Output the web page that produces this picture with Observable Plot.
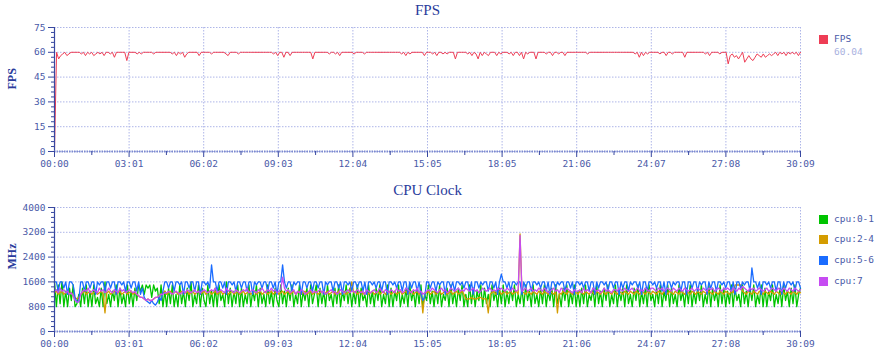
<!DOCTYPE html>
<html><head><meta charset="utf-8">
<script src="https://cdn.jsdelivr.net/npm/d3@7"></script>
<script src="https://cdn.jsdelivr.net/npm/@observablehq/plot@0.6"></script>
<style>
body{margin:0;background:#fff;}
#wrap{position:relative;width:890px;height:358px;overflow:hidden;background:#fff;}
.panel{position:absolute;left:0;}
.legtxt{position:absolute;left:834px;font-family:"DejaVu Sans Mono",monospace;font-size:9.5px;color:#4a5aa8;white-space:nowrap;line-height:12px;}
.sw{position:absolute;left:819px;width:9px;height:9px;}
</style></head><body><div id="wrap"></div>
<script>
// ---- data ----
const duration = 1809; // seconds (30:09)
const xTickLabels = ["00:00","03:01","06:02","09:03","12:04","15:05","18:05","21:06","24:07","27:08","30:09"];
const fpsTicks = [0,15,30,45,60,75];
const cpuTicks = [0,800,1600,2400,3200,4000];
const fpsLegend = ["FPS"];
const fpsAverage = "60.04";
const cpuSeries = ["cpu:0-1","cpu:2-4","cpu:5-6","cpu:7"];
const cpuColors = ["#00c400","#d49c00","#1a6cff","#c64cf2"];
const fpsColor = "#ee3d55";

const fpsValues = [
0,60,56,58,59,60,58,59,60,60,60,60,60,59,60,58,60,59,60,58,
59,60,59,60,58,60,60,59,60,57,60,60,60,60,60,55,60,60,60,60,
59,60,59,60,60,60,60,60,59,60,60,60,60,60,60,60,60,59,60,58,
60,59,60,57,59,60,60,60,60,60,58,60,60,60,60,60,59,60,60,60,
60,60,60,59,58,60,60,60,60,59,60,60,60,60,60,60,60,60,60,60,
60,60,60,60,60,60,59,60,58,60,60,57,60,60,58,60,60,60,60,60,
60,60,60,60,60,56,60,60,60,60,60,60,60,59,60,60,59,60,58,60,
60,60,60,60,60,59,60,60,60,60,59,60,60,60,60,60,60,60,60,60,
60,60,60,60,60,60,60,60,59,60,58,60,59,60,60,60,60,60,60,58,
60,60,60,59,60,58,60,60,59,60,59,60,60,60,56,60,60,60,60,60,
59,60,58,60,59,56,60,58,60,59,58,60,60,60,58,60,59,60,60,60,
59,60,58,60,60,58,60,56,60,59,60,60,60,56,60,60,60,60,59,60,
60,58,60,60,59,60,60,58,60,60,60,60,60,60,60,60,60,60,59,60,
60,60,60,60,60,60,60,60,60,60,60,60,60,60,60,60,60,60,60,60,
60,59,60,57,60,58,60,59,60,60,60,60,60,59,60,60,58,60,60,59,
60,60,60,60,60,57,60,60,60,60,60,60,60,60,60,59,60,58,60,60,
60,60,59,60,60,60,53,58,59,57,58,56,58,60,54,56,58,56,55,57,
59,58,57,59,57,58,59,58,59,60,58,60,59,60,58,60,59,60,59,60,
58,60];

const cpu01 = [
1600,800,1500,900,1600,800,1300,800,1400,1000,1500,800,900,1200,800,1400,900,1500,800,1300,
800,1500,900,1100,800,1400,800,1600,900,1200,800,1300,1000,1500,800,1400,900,1200,800,1500,
900,1300,800,1400,1000,1500,1300,1500,1200,1500,1400,1500,1100,1500,1300,1400,900,1500,800,1300,
800,1400,900,1500,800,1200,800,1500,900,1300,800,1400,1000,1600,800,1200,900,1500,800,1400,
1000,800,1500,900,1300,800,1400,800,1500,1000,1200,800,1600,900,1400,800,1300,900,1500,800,
1400,800,1200,900,1500,800,1300,1000,1500,800,1400,900,1200,800,1500,900,1300,800,1400,1000,
800,1500,900,1300,800,1400,1000,1500,800,1200,900,1500,800,1300,1000,1400,800,1500,900,1200,
1500,800,1400,900,1300,800,1500,1000,1200,800,1400,900,1500,800,1300,1000,1500,900,1400,800,
1300,900,1500,800,1400,1000,1200,800,1500,900,1300,800,1400,1000,1500,800,1200,900,1500,800,
1400,800,1300,1000,1500,800,1200,900,1400,800,1500,1000,1300,800,1400,900,1500,800,1200,1000,
1500,900,1300,800,1400,900,1500,800,1200,1000,1400,800,1500,900,1300,800,1400,1000,1500,800,
1200,800,1500,900,1400,800,1300,1000,1500,800,1400,900,1200,800,1500,1000,1300,800,1400,900,
1500,800,1300,900,1400,1000,1500,800,1200,900,1400,800,1500,1000,1300,800,1500,900,1200,800,
1400,900,1500,800,1300,1000,1400,800,1500,900,1200,800,1400,1000,1500,800,1300,900,1500,800,
1300,800,1400,900,1500,800,1200,1000,1400,800,1500,900,1300,800,1400,1000,1500,800,1200,900,
1500,800,1300,1000,1400,800,1500,900,1200,800,1400,1000,1500,800,1300,900,1400,800,1500,1000,
1200,800,1400,900,1500,800,1300,1000,1500,800,1400,900,1200,800,1500,1000,1300,800,1400,900,
1500,800,1300,900,1400,1000,1500,800,1200,900,1500,800,1400,1000,1300,800,1500,900,1400,800,
1300,900,1500,800,1400,1000,1200,800,1500,900,1300,800,1400,1000,1500,800,1200,900,1500,800,
1400,800,1300,1000,1500,800,1200,900,1400,800,1500,1000,1300,800,1400,900,1500,800,1200,1400];

const cpu24 = [
1250,1300,1200,1250,1300,1200,1250,1300,1200,1250,1150,1100,1050,1100,1200,1250,1300,1200,1250,1300,
1200,1250,1300,1200,1250,1300,1200,600,1250,1300,1200,1250,1300,1200,1250,1300,1200,1250,1300,1200,
1250,1300,1200,1250,1200,1150,1100,1100,1050,1000,1050,1000,1000,1050,1100,1100,1150,1200,1250,1300,
1200,1250,1300,1200,1250,1300,1200,1250,1300,1200,1250,1300,1200,1250,1300,1200,1250,1300,1200,1250,
1300,1200,1250,1300,1200,1250,1300,1200,1250,1300,1200,1250,1300,1200,1250,1300,1200,1250,1300,1200,
1250,1300,1200,1250,1300,1200,1250,1300,1200,1250,1300,1200,1250,1300,1200,1250,1300,1200,1250,1300,
1200,1250,1300,1200,1250,1300,1200,1250,1300,1200,1250,1300,1200,1250,1300,1200,1250,1300,1200,1250,
1300,1200,1250,1300,1200,1250,1300,1200,1250,1300,1200,1250,1300,1200,1250,1300,1200,1250,1300,1600,
1250,1300,1200,1250,1300,1200,1250,1300,1200,1250,1300,1200,1250,1300,1200,1250,1300,1200,1250,1300,
1200,1250,1300,1200,1250,1300,1200,1250,1300,1200,1250,1300,1200,1250,1300,1200,1250,600,1200,1250,
1300,1200,1250,1300,1200,1250,1300,1200,1250,1300,1200,1250,1300,1200,1250,1300,1200,1250,1300,1200,
1050,1050,1050,1100,1050,1050,1050,1100,1100,1050,1050,1050,600,1200,1250,1300,1200,1250,1300,1200,
1250,1300,1200,1250,1300,1200,1250,1300,1200,3150,1300,1250,1200,1300,1250,1200,1300,1250,1200,1300,
1250,1200,1300,1250,1200,1300,1250,1200,1300,600,1250,1200,1300,1250,1200,1300,1250,1200,1300,1250,
1200,1300,1250,1200,1300,1250,1200,1300,1250,1200,1300,1250,1200,1300,1250,1200,1300,1250,1200,1300,
1250,1200,1300,1250,1200,1300,1250,1200,1300,1250,1200,1300,1250,1200,1300,1250,1200,1300,1250,1200,
1300,1250,1200,1300,1250,1200,1300,1250,1200,1300,1250,1200,1300,1250,1200,1300,1250,1200,1300,1250,
1200,1300,1250,1200,1300,1250,1200,1300,1250,1200,1300,1250,1200,1300,1250,1200,1300,1250,1200,1300,
1250,1200,1300,1250,1500,1500,1500,1500,1300,1250,1200,1300,1250,1200,1300,1250,1200,1300,1250,1200,
1300,1250,1200,1300,1250,1200,1300,1250,1200,1300,1250,1200,1300,1250,1200,1300,1250,1200,1300,1250];

const cpu56 = [
1600,1600,1300,1600,1600,1400,1600,1200,1600,1600,1500,1100,950,1000,1600,1600,1300,1600,1600,1400,
1600,1600,1200,1600,1500,1600,1600,1300,1600,1600,1400,1600,1600,1200,1600,1600,1500,1600,1300,1600,
1600,1400,1600,1600,1300,1600,1200,1400,1100,1000,950,900,1000,900,850,950,1100,1000,1300,1600,
1600,1400,1600,1600,1300,1600,1600,1500,1600,1200,1600,1600,1400,1600,1600,1300,1600,1600,1200,1600,
1600,1500,1600,1400,2150,1600,1600,1300,1600,1600,1400,1600,1200,1600,1600,1500,1600,1300,1600,1600,
1400,1600,1600,1300,1600,1600,1200,1600,1500,1600,1600,1400,1600,1600,1300,1600,1600,1400,1600,1200,
1600,1600,2150,1600,1400,1600,1600,1300,1600,1500,1600,1600,1200,1600,1600,1400,1600,1600,1300,1600,
1600,1400,1600,1600,1200,1600,1500,1600,1600,1300,1600,1600,1400,1600,1200,1600,1600,1500,1600,1300,
1600,1600,1400,1600,1600,1300,1600,1200,1600,1600,1500,1600,1400,1600,1600,1300,1600,1600,1200,1600,
1600,1500,1600,1400,1600,1600,1300,1600,1600,1200,1600,1400,1600,1600,1300,1600,1200,1000,1100,1600,
1600,1400,1600,1600,1300,1600,1500,1600,1600,1200,1600,1600,1400,1600,1300,1600,1600,1500,1600,1400,
1600,1600,1300,1600,1200,1600,1600,1400,1600,1500,1600,1600,1300,1600,1600,1400,1600,1200,1600,1850,
1600,1600,1400,1600,1300,1600,1600,1500,1600,1600,1200,1600,1400,1600,1600,1300,1600,1600,1500,1600,
1400,1600,1600,1300,1600,1200,1600,1600,1400,1600,1500,1600,1600,1300,1600,1600,1400,1600,1200,1600,
1600,1500,1600,1400,1600,1600,1300,1600,1600,1200,1600,1400,1600,1600,1500,1600,1300,1600,1600,1400,
1600,1600,1200,1600,1400,1600,1600,1300,1600,1500,1600,1600,1400,1600,1200,1600,1600,1300,1600,1600,
1500,1600,1400,1600,1600,1300,1600,1200,1600,1600,1400,1600,1500,1600,1600,1300,1600,1600,1200,1600,
1600,1400,1600,1600,1300,1600,1500,1600,1600,1200,1600,1400,1600,1600,1300,1600,1600,1500,1600,1400,
1600,1600,1300,1600,1200,1600,1600,1400,1600,1500,1600,1600,1300,2050,1600,1600,1400,1600,1200,1600,
1600,1500,1600,1400,1600,1600,1300,1600,1600,1200,1600,1400,1600,1600,1500,1600,1300,1600,1600,1400];

const cpu7 = [
1300,1350,1250,1400,1300,1350,1250,1300,1200,1250,1150,1000,950,950,1200,1300,1350,1300,1400,1250,
1300,1350,1300,1250,1400,1300,1350,1250,1300,1400,1300,1250,1350,1300,1250,1400,1300,1350,1250,1300,
1350,1300,1250,1300,1200,1150,1100,1100,1050,1000,1050,1000,1000,1050,1100,1100,1150,1200,1200,1250,
1250,1300,1250,1200,1250,1300,1250,1200,1250,1300,1250,1350,1300,1250,1300,1350,1250,1300,1250,1300,
1350,1300,1250,1300,1350,1300,1400,1250,1300,1350,1300,1250,1400,1300,1350,1300,1250,1350,1300,1250,
1300,1350,1300,1400,1250,1300,1350,1300,1250,1350,1300,1400,1300,1250,1350,1300,1400,1300,1350,1250,
1300,1350,1750,1400,1300,1350,1250,1300,1350,1200,1300,1250,1350,1300,1200,1250,1300,1350,1250,1300,
1250,1300,1350,1250,1300,1200,1250,1300,1350,1250,1300,1200,1250,1350,1300,1250,1300,1350,1250,1300,
1300,1250,1350,1300,1250,1300,1200,1350,1300,1250,1300,1350,1250,1300,1400,1300,1250,1350,1300,1250,
1350,1300,1250,1400,1300,1350,1250,1300,1400,1350,1300,1250,1350,1300,1400,1250,1300,1200,1250,1300,
1350,1300,1400,1350,1300,1250,1350,1400,1300,1350,1250,1300,1400,1350,1300,1350,1400,1300,1350,1300,
1400,1350,1300,1350,1400,1300,1350,1250,1300,1400,1350,1300,1350,1400,1300,1350,1300,1400,1350,1400,
1350,1300,1400,1350,1300,1400,1350,1300,1350,3100,1300,1350,1400,1300,1350,1400,1300,1350,1300,1400,
1350,1300,1400,1350,1250,1300,1350,1400,1300,1350,1250,1400,1350,1300,1400,1350,1300,1250,1350,1300,
1300,1350,1250,1400,1300,1350,1300,1250,1400,1350,1300,1350,1250,1300,1400,1300,1350,1300,1250,1350,
1350,1300,1400,1350,1300,1400,1350,1300,1350,1400,1300,1350,1400,1300,1350,1300,1400,1350,1300,1400,
1400,1350,1300,1400,1350,1400,1300,1350,1400,1350,1300,1400,1350,1300,1400,1350,1300,1400,1350,1300,
1350,1400,1300,1350,1400,1350,1300,1400,1350,1300,1400,1350,1400,1300,1350,1400,1350,1300,1400,1350,
1400,1350,1300,1400,1350,1300,1400,1350,1450,1400,1350,1300,1400,1350,1400,1300,1350,1400,1350,1300,
1350,1400,1300,1350,1400,1350,1300,1400,1350,1300,1400,1350,1300,1400,1350,1300,1400,1350,1300,1350];

// ---- build tables ----
const toRows = (vals, series) => vals.map((v, i) => ({t: i * duration / (vals.length - 1), v, series}));
const fpsData = toRows(fpsValues, "FPS");
const cpuData = [cpu01, cpu24, cpu56, cpu7].flatMap((vals, k) => toRows(vals, cpuSeries[k]));

const xMajor = xTickLabels.map((_, i) => i * duration / (xTickLabels.length - 1));
const xMinor = xMajor.slice(1).map((d, i) => (d + xMajor[i]) / 2);
const labelFor = d => xTickLabels[Math.round(d / (duration / (xTickLabels.length - 1)))];
const minorsOf = ticks => {
  const out = [];
  for (let i = 1; i < ticks.length; i++) {
    const step = (ticks[i] - ticks[i-1]) / 5;
    for (let k = 1; k < 5; k++) out.push(ticks[i-1] + k * step);
  }
  return out;
};

const axisColor = "#3848a0";
const textColor = "#4a5aa8";
const gridColor = "#aeb6e8";

function panel({title, yLabel, yTicks, lineMarks}) {
  return Plot.plot({
    width: 890, height: 175,
    marginLeft: 54, marginRight: 90, marginTop: 27, marginBottom: 24,
    x: {domain: [0, duration]},
    y: {domain: [yTicks[0], yTicks[yTicks.length - 1]]},
    style: {fontFamily: "DejaVu Sans Mono, monospace", fontSize: "9.5px", color: textColor, background: "white", overflow: "visible"},
    marks: [
      Plot.gridX(xMajor, {stroke: gridColor, strokeOpacity: 1, strokeDasharray: "1.5,1.5"}),
      Plot.gridY(yTicks, {stroke: gridColor, strokeOpacity: 1, strokeDasharray: "1.5,1.5"}),
      ...lineMarks,
      Plot.ruleX([0], {stroke: axisColor, strokeWidth: 1.2}),
      Plot.ruleY([0], {stroke: "#7d8ad0", strokeWidth: 2, strokeDasharray: "1.5,1"}),
      Plot.axisX(xMajor, {tickFormat: labelFor, tickSize: 6, tickPadding: 3, stroke: axisColor, fill: textColor, label: null}),
      Plot.axisX(xMinor, {tickFormat: () => "", tickSize: 4, stroke: axisColor, label: null}),
      Plot.axisY(yTicks, {tickFormat: d => String(d), tickSize: 6, tickPadding: 3, stroke: axisColor, fill: textColor, label: null}),
      Plot.axisY(minorsOf(yTicks), {tickFormat: () => "", tickSize: 3, stroke: axisColor, label: null}),
      Plot.text([title], {frameAnchor: "top", lineAnchor: "middle", dy: -17, fill: "#2a3c9c", fontFamily: "Liberation Serif, serif", fontSize: 15}),
      Plot.text([yLabel], {frameAnchor: "left", lineAnchor: "middle", dx: -42, rotate: -90, fill: "#2a3c9c", fontFamily: "Liberation Serif, serif", fontSize: 12, fontWeight: "bold"})
    ]
  });
}

const topPanel = panel({
  title: "FPS", yLabel: "FPS", yTicks: fpsTicks,
  lineMarks: [Plot.line(fpsData, {x: "t", y: "v", stroke: fpsColor, strokeWidth: 1})]
});
const bottomPanel = panel({
  title: "CPU Clock", yLabel: "MHz", yTicks: cpuTicks,
  lineMarks: [Plot.line(cpuData, {x: "t", y: "v", z: "series", stroke: d => cpuColors[cpuSeries.indexOf(d.series)], strokeWidth: 1.3})]
});

const wrap = document.getElementById("wrap");
topPanel.classList.add("panel"); topPanel.style.top = "0px";
bottomPanel.classList.add("panel"); bottomPanel.style.top = "180px";
wrap.appendChild(topPanel); wrap.appendChild(bottomPanel);

function addLegend(items, colors, y0, gap, extra) {
  items.forEach((name, i) => {
    const sw = document.createElement("div");
    sw.className = "sw"; sw.style.top = (y0 + i * gap - 4.5) + "px"; sw.style.background = colors[i];
    wrap.appendChild(sw);
    const tx = document.createElement("div");
    tx.className = "legtxt"; tx.style.top = (y0 + i * gap - 6.5) + "px"; tx.textContent = name;
    wrap.appendChild(tx);
  });
  if (extra) {
    const tx = document.createElement("div");
    tx.className = "legtxt"; tx.style.top = (y0 + 7) + "px"; tx.style.color = "#a9b1e0"; tx.textContent = extra;
    wrap.appendChild(tx);
  }
}
addLegend(fpsLegend, [fpsColor], 39, 0, fpsAverage);
addLegend(cpuSeries, cpuColors, 219, 20.7);
</script></body></html>
